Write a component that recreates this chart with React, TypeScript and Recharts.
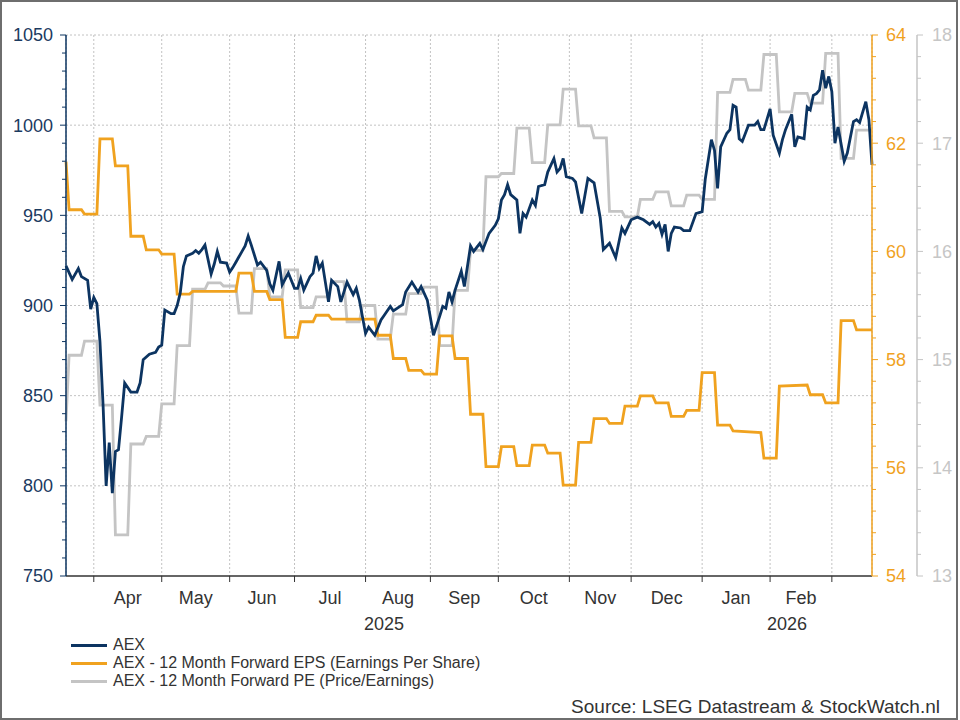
import { LineChart, Line, XAxis, YAxis, CartesianGrid } from "recharts";

// x = trading-day index, 0 = Tue 1 Apr 2025
const MONTH_STARTS = [0, 22, 44, 65, 88, 109, 131, 154, 174, 197, 219, 239];
const MONTH_MIDS = [11, 33, 54.5, 76.5, 98.5, 120, 142.5, 164, 185.5, 208, 229];
const MONTH_LABELS = ["Apr", "May", "Jun", "Jul", "Aug", "Sep", "Oct", "Nov", "Dec", "Jan", "Feb"];
const YEAR_MIDS = [94, 224.5];
const YEAR_LABELS = ["2025", "2026"];

const AEX_TICKS = [750, 760, 770, 780, 790, 800, 810, 820, 830, 840, 850, 860, 870, 880, 890, 900, 910, 920, 930, 940, 950, 960, 970, 980, 990, 1000, 1010, 1020, 1030, 1040, 1050];
const AEX_GRID = [800, 850, 900, 950, 1000, 1050];
const EPS_TICKS = [54, 54.4, 54.8, 55.2, 55.6, 56, 56.4, 56.8, 57.2, 57.6, 58, 58.4, 58.8, 59.2, 59.6, 60, 60.4, 60.8, 61.2, 61.6, 62, 62.4, 62.8, 63.2, 63.6, 64];
const PE_TICKS = [13, 13.2, 13.4, 13.6, 13.8, 14, 14.2, 14.4, 14.6, 14.8, 15, 15.2, 15.4, 15.6, 15.8, 16, 16.2, 16.4, 16.6, 16.8, 17, 17.2, 17.4, 17.6, 17.8, 18];

const aex = [
  [-9, 922], [-7, 914.5], [-5, 920.5], [-4, 916], [-2, 914], [-1, 898], [0, 904.5], [1, 901], [2, 880], [3, 845],
  [4, 800], [5, 824], [6, 796], [7, 819], [8, 820], [9, 838], [10, 857], [12, 852], [14, 852], [15, 857],
  [16, 870], [18, 873], [20, 874], [21, 877], [22, 878], [23, 897.5], [25, 895.5], [26, 895.5], [27, 900], [28, 907],
  [29, 921.5], [30, 927.5], [32, 929], [33, 930.5], [34, 929], [35, 931], [36, 933.5], [38, 917.5], [39, 923], [40, 930],
  [41, 924], [43, 923.5], [44, 918.5], [45, 921], [46, 924], [47, 927], [48, 930], [49, 933], [50, 938.5], [51, 933.5],
  [53, 922.5], [54, 924], [56, 919.5], [57, 912], [58, 908.5], [60, 924.5], [61, 911.5], [63, 918], [65, 909.5], [66, 909.5],
  [67, 915], [68, 908.5], [70, 916], [71, 918], [72, 927.5], [73, 920.5], [74, 923.5], [76, 902], [77, 914], [79, 910.5],
  [80, 902], [82, 913], [84, 906], [85, 909.5], [86, 903], [88, 884.5], [89, 888], [91, 883.5], [93, 892], [94, 894.5],
  [96, 899.5], [97, 897], [100, 900.5], [101, 907.5], [103, 913], [105, 907.5], [106, 910.5], [108, 903], [110, 883.5], [112, 894],
  [113, 899.5], [114, 898.5], [115, 907.5], [116, 902], [117, 908.5], [119, 919], [120, 910.5], [122, 933], [123, 930], [125, 934.5],
  [126, 931], [128, 940], [130, 944.5], [131, 948], [132, 958.5], [133, 961.5], [134, 967], [135, 961.5], [137, 958.5], [138, 940],
  [139, 951], [140, 949], [142, 958.5], [143, 955.5], [144, 966], [146, 967], [147, 974], [149, 981.5], [150, 974], [151, 976],
  [152, 981.5], [153, 971.5], [155, 970.5], [156, 968.5], [158, 951], [160, 970.5], [162, 968], [164, 948.5], [165, 931], [167, 934.5],
  [169, 926.5], [171, 943], [172, 940], [174, 947.5], [176, 949], [178, 947.5], [180, 945], [181, 946.5], [182, 943.5], [183, 945.5],
  [184, 939.5], [185, 945], [186, 930], [187, 940], [188, 943.5], [190, 943], [191, 941.5], [193, 941.5], [195, 951], [196, 951.5],
  [197, 952], [198, 970], [200, 992], [201, 986], [202, 965], [203, 988], [205, 995.5], [206, 997.5], [207, 1011], [208, 1010],
  [209, 992.5], [210, 991], [212, 1000], [214, 1000], [215, 1002], [216, 997.5], [217, 997.5], [219, 1009], [220, 994.5], [222, 984.5],
  [223, 992], [224, 997.5], [226, 1006], [227, 988], [228, 993.5], [230, 992.5], [231, 1010], [232, 1008.5], [233, 1016.5], [234, 1017.5],
  [235, 1019.5], [236, 1030.5], [237, 1020.5], [238, 1027], [239, 1018.5], [240, 990], [241, 999], [243, 980], [244, 984.5], [246, 1002],
  [247, 1003], [248, 1001.5], [250, 1013], [251, 1003], [252, 978],
];

const eps = [
  [-9, 61.66], [-8, 60.77], [-4, 60.77], [-3, 60.69], [1, 60.69], [2, 62.08], [6, 62.08], [7, 61.58], [11, 61.58], [12, 60.28],
  [16, 60.28], [17, 60.03], [21, 60.03], [22, 59.95], [26, 59.95], [27, 59.21], [31, 59.21], [32, 59.26], [46, 59.26], [47, 59.6],
  [51, 59.6], [52, 59.26], [56, 59.26], [57, 59.11], [61, 59.11], [62, 58.41], [66, 58.41], [67, 58.7], [71, 58.7], [72, 58.82],
  [76, 58.82], [77, 58.75], [91, 58.75], [92, 58.45], [96, 58.45], [97, 58.02], [101, 58.02], [102, 57.8], [106, 57.8], [107, 57.73],
  [111, 57.73], [112, 58.44], [116, 58.44], [117, 58.02], [121, 58.02], [122, 56.99], [126, 56.99], [127, 56.02], [131, 56.02], [132, 56.39],
  [136, 56.39], [137, 56.04], [141, 56.04], [142, 56.42], [146, 56.42], [147, 56.27], [151, 56.27], [152, 55.68], [156, 55.68], [157, 56.47],
  [161, 56.47], [162, 56.91], [166, 56.91], [167, 56.82], [171, 56.82], [172, 57.14], [176, 57.14], [177, 57.33], [181, 57.33], [182, 57.2],
  [186, 57.2], [187, 56.95], [191, 56.95], [192, 57.06], [196, 57.06], [197, 57.76], [201, 57.76], [202, 56.79], [206, 56.79], [207, 56.68],
  [216, 56.65], [217, 56.18], [221, 56.18], [222, 57.51], [231, 57.53], [232, 57.35], [236, 57.35], [237, 57.2], [241, 57.2], [242, 58.72],
  [246, 58.72], [247, 58.55], [252, 58.55],
];

const pe = [
  [-9, 14.43], [-8, 15.04], [-4, 15.04], [-3, 15.17], [1, 15.17], [2, 14.58], [6, 14.58], [7, 13.38], [11, 13.38], [12, 14.22],
  [16, 14.22], [17, 14.29], [21, 14.29], [22, 14.59], [26, 14.59], [27, 15.13], [31, 15.13], [32, 15.65], [36, 15.65], [37, 15.71],
  [41, 15.71], [42, 15.68], [46, 15.68], [47, 15.43], [51, 15.43], [52, 15.84], [56, 15.84], [57, 15.58], [61, 15.58], [62, 15.83],
  [66, 15.83], [67, 15.48], [71, 15.48], [72, 15.58], [76, 15.58], [77, 15.72], [81, 15.72], [82, 15.35], [86, 15.35], [87, 15.5],
  [91, 15.5], [92, 15.19], [96, 15.19], [97, 15.42], [101, 15.42], [102, 15.61], [106, 15.61], [107, 15.67], [111, 15.67], [112, 15.13],
  [116, 15.13], [117, 15.64], [121, 15.64], [122, 16.01], [126, 16.01], [127, 16.69], [131, 16.69], [132, 16.72], [136, 16.72], [137, 17.14],
  [141, 17.14], [142, 16.82], [146, 16.82], [147, 17.17], [151, 17.17], [152, 17.5], [156, 17.5], [157, 17.16], [161, 17.16], [162, 17.05],
  [166, 17.05], [167, 16.37], [171, 16.37], [172, 16.32], [176, 16.32], [177, 16.48], [181, 16.48], [182, 16.55], [186, 16.55], [187, 16.42],
  [191, 16.42], [192, 16.52], [196, 16.52], [197, 16.48], [201, 16.48], [202, 17.47], [206, 17.47], [207, 17.59], [211, 17.59], [212, 17.49],
  [216, 17.49], [217, 17.82], [221, 17.82], [222, 17.29], [226, 17.29], [227, 17.46], [231, 17.46], [232, 17.37], [236, 17.37], [237, 17.83],
  [241, 17.83], [242, 16.86], [246, 16.86], [247, 17.12], [252, 17.12],
];

const NAVY = "#0c3461";
const NAVY_TEXT = "#1b3a5f";
const ORANGE = "#f0a21f";
const GREY = "#c4c4c4";
const FONT = "'Liberation Sans', Arial, sans-serif";

const toPts = (arr: number[][]) => arr.map(([i, v]) => ({ i, v }));
const aexPts = toPts(aex);
const epsPts = toPts(eps);
const pePts = toPts(pe);

const legendItems = [
  { name: "AEX", color: NAVY },
  { name: "AEX - 12 Month Forward EPS (Earnings Per Share)", color: ORANGE },
  { name: "AEX - 12 Month Forward PE (Price/Earnings)", color: GREY },
];

const TICK = 6;

// draws major + minor ticks and the label for the major ones
const axisTick = (
  side: "left" | "right",
  color: string,
  textColor: string,
  gap: number,
  isMajor: (v: number) => boolean
) => (props: any) => {
  const { x, y, payload } = props;
  const v = payload.value;
  const major = isMajor(v);
  const len = major ? 6 : 4;
  const ax = side === "left" ? x + TICK + gap : x - TICK - gap;
  const x2 = side === "left" ? ax - len : ax + len;
  return (
    <g>
      <line x1={ax} x2={x2} y1={y} y2={y} stroke={color} strokeWidth={1} />
      {major && (
        <text
          x={x}
          y={y}
          dy="0.36em"
          textAnchor={side === "left" ? "end" : "start"}
          fill={textColor}
          fontSize={18}
          fontFamily={FONT}
        >
          {Math.round(v)}
        </text>
      )}
    </g>
  );
};

// month / year labels: no tick line, just text
const labelTick = (values: number[], labels: string[]) => (props: any) => {
  const { x, y, payload } = props;
  const idx = values.indexOf(payload.value);
  return (
    <text x={x} y={y} dy="0.71em" textAnchor="middle" fill="#333" fontSize={18} fontFamily={FONT}>
      {labels[idx]}
    </text>
  );
};

const near = (v: number, step: number) => Math.abs(v / step - Math.round(v / step)) < 1e-6;

const App = () => {
  return (
    <div style={{ position: "absolute", left: 0, top: 0, width: 960, height: 720, background: "#fff", fontFamily: FONT }}>
      <LineChart width={960} height={720} data={aexPts} margin={{ top: 35, right: 3, bottom: 81, left: 0 }}>
        <CartesianGrid
          xAxisId="m"
          yAxisId="aex"
          horizontalValues={AEX_GRID}
          stroke="#c2c2c2"
          strokeDasharray="2 2"
        />
        <XAxis
          xAxisId="m"
          type="number"
          dataKey="i"
          domain={[-9, 252]}
          ticks={MONTH_STARTS}
          interval={0}
          tick={() => <g />}
          tickSize={6}
          height={8}
          axisLine={{ stroke: "#333", strokeWidth: 1.5 }}
          tickLine={{ stroke: "#333" }}
        />
        <XAxis
          xAxisId="ml"
          type="number"
          dataKey="i"
          domain={[-9, 252]}
          ticks={MONTH_MIDS}
          interval={0}
          tick={labelTick(MONTH_MIDS, MONTH_LABELS)}
          tickSize={0}
          tickMargin={7}
          height={30}
          axisLine={false}
          tickLine={false}
        />
        <XAxis
          xAxisId="yr"
          type="number"
          dataKey="i"
          domain={[-9, 252]}
          ticks={YEAR_MIDS}
          interval={0}
          tick={labelTick(YEAR_MIDS, YEAR_LABELS)}
          tickSize={0}
          tickMargin={3}
          height={25}
          axisLine={false}
          tickLine={false}
        />
        <YAxis
          yAxisId="aex"
          orientation="left"
          width={66}
          domain={[750, 1050]}
          ticks={AEX_TICKS}
          interval={0}
          tickSize={TICK}
          tickMargin={7}
          tickLine={false}
          axisLine={{ stroke: NAVY, strokeWidth: 1.5 }}
          tick={axisTick("left", NAVY, NAVY_TEXT, 7, (v) => near(v, 50))}
        />
        <YAxis
          yAxisId="eps"
          orientation="right"
          width={45}
          domain={[54, 64]}
          ticks={EPS_TICKS}
          interval={0}
          tickSize={TICK}
          tickMargin={8}
          tickLine={false}
          axisLine={{ stroke: ORANGE, strokeWidth: 1.5 }}
          tick={axisTick("right", ORANGE, ORANGE, 8, (v) => near(v, 2))}
        />
        <YAxis
          yAxisId="pe"
          orientation="right"
          width={40}
          domain={[13, 18]}
          ticks={PE_TICKS}
          interval={0}
          tickSize={TICK}
          tickMargin={9}
          tickLine={false}
          axisLine={{ stroke: GREY, strokeWidth: 1.5 }}
          tick={axisTick("right", GREY, "#c6c6c6", 9, (v) => near(v, 1))}
        />
        <Line
          xAxisId="m"
          yAxisId="pe"
          data={pePts}
          dataKey="v"
          type="linear"
          stroke={GREY}
          strokeWidth={2.8}
          dot={false}
          isAnimationActive={false}
        />
        <Line
          xAxisId="m"
          yAxisId="eps"
          data={epsPts}
          dataKey="v"
          type="linear"
          stroke={ORANGE}
          strokeWidth={2.8}
          dot={false}
          isAnimationActive={false}
        />
        <Line
          xAxisId="m"
          yAxisId="aex"
          dataKey="v"
          type="linear"
          stroke={NAVY}
          strokeWidth={2.8}
          dot={false}
          isAnimationActive={false}
        />
      </LineChart>

      {/* legend */}
      <div style={{ position: "absolute", left: 71, top: 636, fontSize: 16, lineHeight: "18px", color: "#333" }}>
        {legendItems.map((it) => (
          <div key={it.name} style={{ display: "flex", alignItems: "center", height: 18 }}>
            <span style={{ display: "inline-block", width: 36, height: 3, background: it.color, marginRight: 6 }} />
            <span>{it.name}</span>
          </div>
        ))}
      </div>

      <div style={{ position: "absolute", right: 20, top: 697, fontSize: 19, lineHeight: "19px", color: "#333" }}>
        Source: LSEG Datastream &amp; StockWatch.nl
      </div>

      {/* outer frame */}
      <div
        style={{
          position: "absolute",
          left: 0,
          top: 0,
          width: 958,
          height: 720,
          boxSizing: "border-box",
          border: "2px solid #6e6e6e",
          pointerEvents: "none",
        }}
      />
    </div>
  );
};

export default App;
